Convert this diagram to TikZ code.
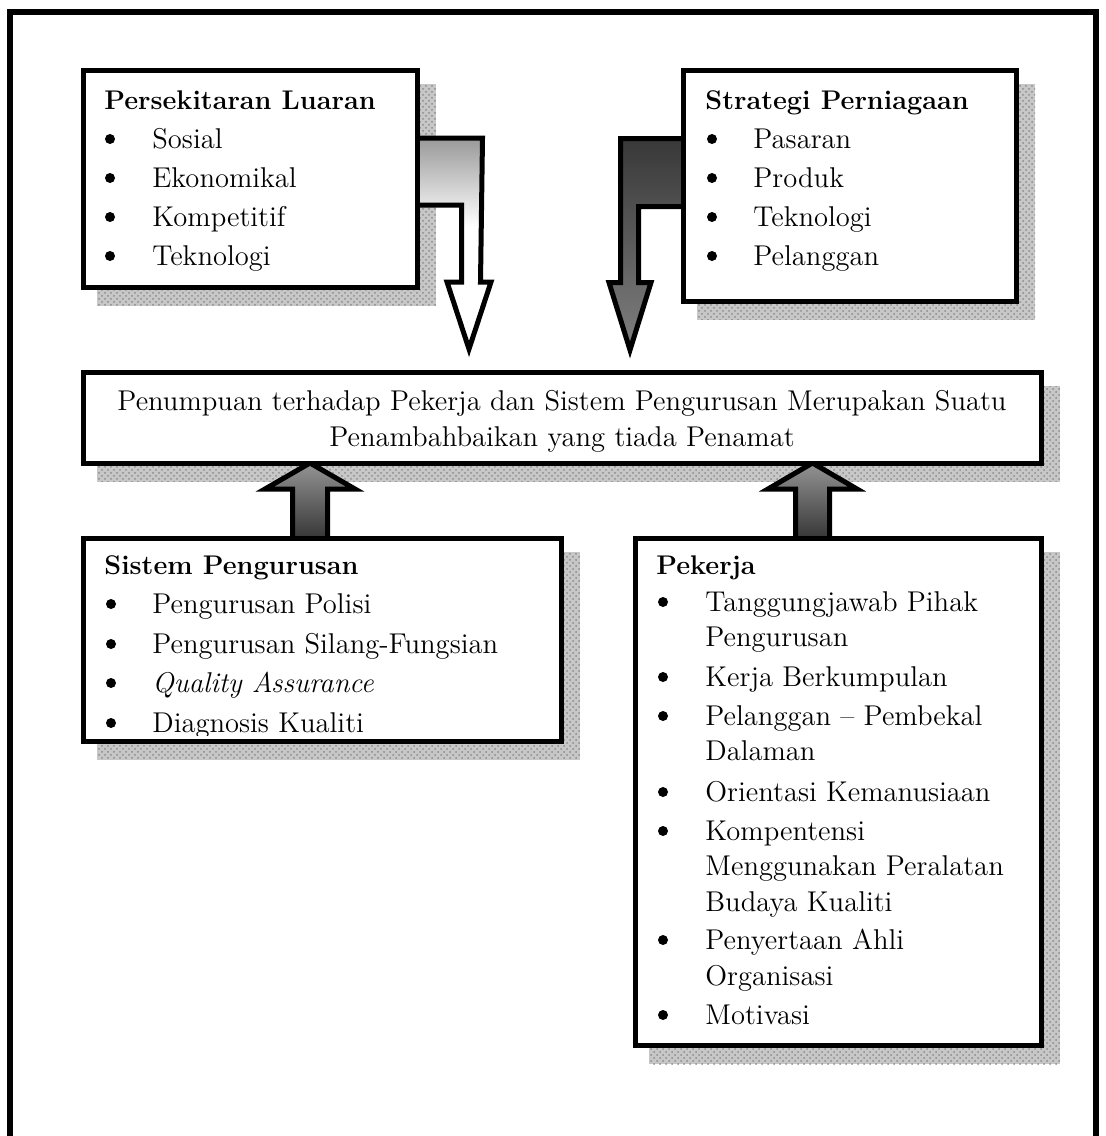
\documentclass[tikz,border=0pt]{standalone}
\usetikzlibrary{calc,fit,patterns}

\pgfdeclarelayer{bglayer}
\pgfdeclarelayer{shadowlayer}
\pgfdeclarelayer{arrowlayer}
\pgfsetlayers{bglayer,shadowlayer,arrowlayer,main}

% fills of the block arrows
\pgfdeclareverticalshading{lightbend}{100bp}{color(0bp)=(white); color(54bp)=(white); color(75bp)=(black!40); color(100bp)=(black!40)}
\pgfdeclareverticalshading{darkbend}{100bp}{color(0bp)=(black!50); color(25bp)=(black!50); color(75bp)=(black!78); color(100bp)=(black!78)}
\pgfdeclareverticalshading{upshade}{100bp}{color(0bp)=(black!80); color(25bp)=(black!80); color(75bp)=(black!42); color(100bp)=(black!42)}

\newcommand\bodysize{\fontsize{14.3}{16}\selectfont}
\newcommand\headsize{\fontsize{13.5}{16}\selectfont}

\tikzset{
  frameline/.style={line width=3pt, line cap=butt, line join=miter},
  box/.style={draw, line width=2.5pt, fill=white, inner sep=0pt, outer sep=0pt},
  blockarrow/.style={draw, line width=2.5pt, line join=miter, miter limit=12},
  head/.style={anchor=base west, inner sep=0pt, font=\headsize\bfseries},
  itemtext/.style={anchor=base west, inner sep=0pt, font=\bodysize},
  dot/.style={circle, fill=black, inner sep=0pt, minimum size=5pt},
  ctext/.style={anchor=base, inner sep=0pt, font=\bodysize},
}

% bullet item: name, bullet x, text x, baseline y, text
\newcommand\bitem[5]{%
  \node[dot] (#1-dot) at (#2,#4-9) {};
  \node[itemtext] (#1) at (#3,#4) {#5};}

% textured drop shadow behind a box
\newcommand\dropshadow[1]{%
  \fill[black!22] ($(#1.north west)+(13.5,13.5)$) rectangle ($(#1.south east)+(18.5,18.5)$);
  \fill[pattern=crosshatch dots, pattern color=black!45] ($(#1.north west)+(13.5,13.5)$) rectangle ($(#1.south east)+(18.5,18.5)$);}

\begin{document}
\begin{tikzpicture}[x=0.5pt,y=-0.5pt]
\useasboundingbox (0,0) rectangle (1106,1136);
\begin{pgfonlayer}{bglayer}
  \fill[white] (0,0) rectangle (1106,1136);
\end{pgfonlayer}

% outer frame
\draw[frameline] (10,1136) -- (10,12) -- (1096,12) -- (1096,1136);

% boxes
\node[box, fit={(83.5,70.5) (417.5,287.5)}] (env) {};
\node[box, fit={(683.5,70.5) (1016.5,301)}] (strat) {};
\node[box, fit={(83.5,372.5) (1041.5,463)}] (focus) {};
\node[box, fit={(83.5,538.5) (561.5,741)}] (sys) {};
\node[box, fit={(635.5,538.5) (1041.5,1045.5)}] (staff) {};

\begin{pgfonlayer}{shadowlayer}
  \dropshadow{env}
  \dropshadow{strat}
  \dropshadow{focus}
  \dropshadow{sys}
  \dropshadow{staff}
\end{pgfonlayer}

\begin{pgfonlayer}{arrowlayer}
  % bent arrow from the external environment box
  \coordinate (envtip) at (469,349);
  \shadedraw[blockarrow, shading=lightbend]
    ($(env.north east)+(-8,67.5)$) -- (482.5,138) -- (480.5,282) -- (491,282) -- (envtip)
    -- (447,282) -- (461.5,282) -- (461.5,205) -- ($(env.north east)+(-8,134.5)$) -- cycle;
  % bent arrow from the business strategy box
  \coordinate (strattip) at (630,350);
  \shadedraw[blockarrow, shading=darkbend]
    ($(strat.north west)+(8,68)$) -- (620.5,138.5) -- (620.5,282.5) -- (609,282.5) -- (strattip)
    -- (651,282.5) -- (638.5,282.5) -- (638.5,206.5) -- ($(strat.north west)+(8,136)$) -- cycle;
  % upward arrows into the focus box
  \shadedraw[blockarrow, shading=upshade]
    (292.5,541) -- (292.5,489) -- (265,489) -- (focus.south -| 310,0) -- (355,489) -- (327.5,489) -- (327.5,541) -- cycle;
  \shadedraw[blockarrow, shading=upshade]
    (795.5,541) -- (795.5,489) -- (768,489) -- (focus.south -| 812.5,0) -- (857,489) -- (829.5,489) -- (829.5,541) -- cycle;
\end{pgfonlayer}

% external environment
\node[head] (envhead) at (104,109) {Persekitaran Luaran};
\bitem{e1}{110}{152}{148}{Sosial}
\bitem{e2}{110}{152}{187}{Ekonomikal}
\bitem{e3}{110}{152}{226}{Kompetitif}
\bitem{e4}{110}{152}{265}{Teknologi}

% business strategy
\node[head] (strathead) at (705,109) {Strategi Perniagaan};
\bitem{s1}{712}{753}{148}{Pasaran}
\bitem{s2}{712}{753}{187}{Produk}
\bitem{s3}{712}{753}{226}{Teknologi}
\bitem{s4}{712}{753}{265}{Pelanggan}

% central statement
\node[ctext] (focus1) at (562,410) {Penumpuan terhadap Pekerja dan Sistem Pengurusan Merupakan Suatu};
\node[ctext] (focus2) at (562,446) {Penambahbaikan yang tiada Penamat};

% management system
\begin{scope}
  \clip (83.5,538.5) rectangle (561.5,735);
  \node[head] (syshead) at (104,574) {Sistem Pengurusan};
  \bitem{m1}{111}{152}{613}{Pengurusan Polisi}
  \bitem{m2}{111}{152}{653}{Pengurusan Silang-Fungsian}
  \bitem{m3}{111}{152}{692}{\itshape Quality Assurance}
  \bitem{m4}{111}{152}{732}{Diagnosis Kualiti}
\end{scope}

% staff
\node[head] (staffhead) at (656,574) {Pekerja};
\bitem{p1}{663}{705}{611}{Tanggungjawab Pihak}
\node[itemtext] (p1b) at (705,646) {Pengurusan};
\bitem{p2}{663}{705}{686}{Kerja Berkumpulan}
\bitem{p3}{663}{705}{725}{Pelanggan \textendash{} Pembekal}
\node[itemtext] (p3b) at (705,760) {Dalaman};
\bitem{p4}{663}{705}{801}{Orientasi Kemanusiaan}
\bitem{p5}{663}{705}{840}{Kompentensi}
\node[itemtext] (p5b) at (705,875) {Menggunakan Peralatan};
\node[itemtext] (p5c) at (705,911) {Budaya Kualiti};
\bitem{p6}{663}{705}{949}{Penyertaan Ahli}
\node[itemtext] (p6b) at (705,985) {Organisasi};
\bitem{p7}{663}{705}{1024}{Motivasi}

\end{tikzpicture}
\end{document}
